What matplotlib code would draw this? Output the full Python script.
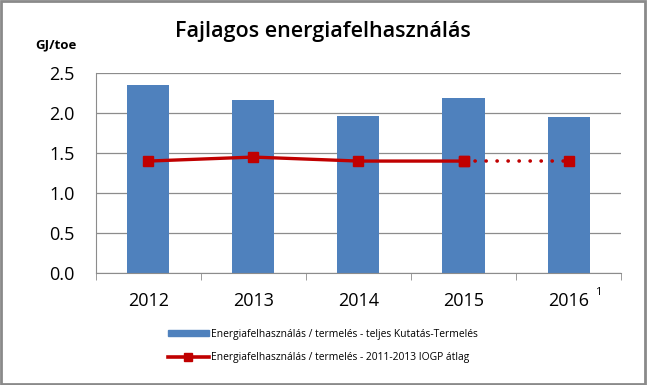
import matplotlib.pyplot as plt
from matplotlib.lines import Line2D
from matplotlib.patches import Patch, Rectangle

years = ['2012', '2013', '2014', '2015', '2016']
teljes = [2.35, 2.16, 1.96, 2.19, 1.95]
iogp = [1.40, 1.45, 1.40, 1.40, 1.40]

bar_color = '#4F81BD'
line_color = '#C00000'

plt.rcParams['font.family'] = ['Open Sans', 'DejaVu Sans']

fig = plt.figure(figsize=(6.47, 3.85), dpi=100)
ax = fig.add_axes([0.148, 0.291, 0.812, 0.519])

x = list(range(len(years)))
ax.bar(x, teljes, width=0.4, color=bar_color, zorder=2)
# solid part of the line up to 2015, dotted to 2016
ax.plot(x[:4], iogp[:4], color=line_color, lw=2.4, marker='s', ms=7, zorder=3)
ax.plot(x[3:], iogp[3:], color=line_color, lw=2.6, ls=(0, (0.05, 3.0)), marker='s', ms=7,
        dash_capstyle='round', zorder=3)

ax.set_xlim(-0.5, 4.5)
ax.set_ylim(0, 2.5)
ax.set_yticks([0, 0.5, 1.0, 1.5, 2.0, 2.5])
ax.set_yticklabels(['0.0', '0.5', '1.0', '1.5', '2.0', '2.5'], fontsize=13)
ax.yaxis.grid(True, color='#8c8c8c', lw=0.9, zorder=0)
ax.set_axisbelow(True)
ax.tick_params(axis='y', length=0, pad=15)

ax.set_xticks(x)
ax.set_xticklabels(years, fontsize=13)
ax.set_xticks([i - 0.5 for i in range(6)], minor=True)
ax.tick_params(axis='x', which='major', length=0, pad=14)
ax.tick_params(axis='x', which='minor', length=5, color='#8c8c8c')

for s in ['top', 'right']:
    ax.spines[s].set_visible(False)
ax.spines['left'].set_color('#8c8c8c')
ax.spines['bottom'].set_color('#8c8c8c')

fig.text(0.925, 0.239, '1', fontsize=8, ha='center', va='center')

fig.text(0.499, 0.917, 'Fajlagos energiafelhasználás', fontsize=15.5, fontweight='semibold',
         ha='center', va='center')
fig.text(0.087, 0.883, 'GJ/toe', fontsize=9.5, fontweight='bold', ha='center', va='center')

handles = [Patch(color=bar_color),
           Line2D([0], [0], color=line_color, lw=2.6, marker='s', ms=6)]
labels = ['Energiafelhasználás / termelés - teljes Kutatás-Termelés',
          'Energiafelhasználás / termelés - 2011-2013 IOGP átlag']
fig.legend(handles, labels, loc='center left', bbox_to_anchor=(0.245, 0.102), frameon=False,
           fontsize=7.4, handlelength=4.0, handleheight=0.5, labelspacing=1.2, handletextpad=0.2)

fig.patches.append(Rectangle((0.002, 0.003), 0.995, 0.994, transform=fig.transFigure,
                             fill=False, edgecolor='#8a8a8a', lw=2))

fig.savefig('out.png', dpi=100)
